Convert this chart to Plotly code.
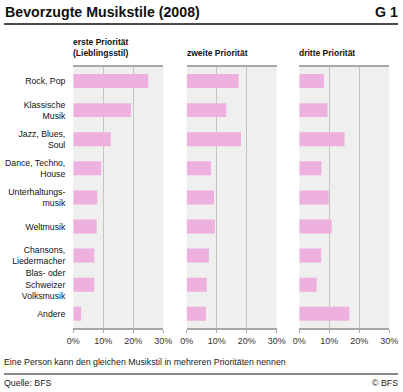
import plotly.graph_objects as go

categories = ["Rock, Pop", "Klassische<br>Musik", "Jazz, Blues,<br>Soul", "Dance, Techno,<br>House",
              "Unterhaltungs-<br>musik", "Weltmusik", "Chansons,<br>Liedermacher",
              "Blas- oder<br>Schweizer<br>Volksmusik", "Andere"]
erste = [25.0, 19.2, 12.5, 9.3, 8.0, 7.8, 7.0, 7.0, 2.6]
zweite = [17.3, 13.2, 18.1, 8.1, 9.1, 9.4, 7.4, 6.7, 6.4]
dritte = [8.2, 9.4, 15.1, 7.4, 9.8, 10.8, 7.3, 5.8, 16.7]
panel_titles = ["erste Priorität<br>(Lieblingsstil)", "zweite Priorität", "dritte Priorität"]
tick_vals = [0, 10, 20, 30]
tick_text = ["0%", "10%", "20%", "30%"]

FONT = "Liberation Sans, Arial, sans-serif"
W, H = 403, 392
BAR = "#EEB0DE"

xdoms = [(73.3 / W, 163.3 / W), (186.7 / W, 276.7 / W), (299.3 / W, 389.3 / W)]
ydom = ((H - 328.3) / H, (H - 66.5) / H)

fig = go.Figure()
series = [erste, zweite, dritte]
for i, vals in enumerate(series):
    sfx = "" if i == 0 else str(i + 1)
    fig.add_trace(go.Bar(
        x=vals, y=categories, orientation="h",
        marker=dict(color=BAR, line=dict(width=0)),
        width=0.48, xaxis="x" + sfx, yaxis="y" + sfx, showlegend=False,
        hoverinfo="x+y",
    ))
    xa = dict(domain=list(xdoms[i]), range=[0, 30], tickvals=tick_vals, ticktext=tick_text,
              showgrid=True, gridcolor="#C4C4C4", gridwidth=1,
              showline=True, mirror=True, linecolor="#A8A8A8", linewidth=1.5,
              ticks="outside", ticklen=3, tickcolor="#A8A8A8",
              tickfont=dict(family=FONT, size=9, color="#333333"),
              zeroline=False, anchor="y" + sfx, fixedrange=True, automargin=False)
    ya = dict(domain=list(ydom), type="category", autorange="reversed",
              showticklabels=(i == 0), ticks="", showgrid=False,
              showline=False, anchor="x" + sfx, ticklabelstandoff=7,
              tickfont=dict(family=FONT, size=8.7, color="#111111"), fixedrange=True,
              automargin=False)
    fig.layout["xaxis" + sfx] = xa
    fig.layout["yaxis" + sfx] = ya
    fig.add_annotation(text="<b>" + panel_titles[i] + "</b>", xref="paper", yref="paper",
                       x=xdoms[i][0] - 2 / W, y=(H - 60) / H, xanchor="left", yanchor="bottom",
                       align="left", showarrow=False,
                       font=dict(family=FONT, size=8.5, color="#111111"))

fig.add_annotation(text="<b>Bevorzugte Musikstile (2008)</b>", xref="paper", yref="paper",
                   x=3 / W, y=(H - 12) / H, xanchor="left", yanchor="middle", showarrow=False,
                   font=dict(family=FONT, size=14.2, color="#111111"))
fig.add_annotation(text="<b>G 1</b>", xref="paper", yref="paper",
                   x=400 / W, y=(H - 12) / H, xanchor="right", yanchor="middle", showarrow=False,
                   font=dict(family=FONT, size=14.2, color="#111111"))
fig.add_annotation(text="Eine Person kann den gleichen Musikstil in mehreren Prioritäten nennen",
                   xref="paper", yref="paper", x=2 / W, y=(H - 362) / H, xanchor="left",
                   yanchor="middle", showarrow=False,
                   font=dict(family=FONT, size=8.8, color="#222222"))
fig.add_annotation(text="Quelle: BFS", xref="paper", yref="paper", x=2 / W, y=(H - 383) / H,
                   xanchor="left", yanchor="middle", showarrow=False,
                   font=dict(family=FONT, size=8.8, color="#222222"))
fig.add_annotation(text="© BFS", xref="paper", yref="paper", x=400 / W, y=(H - 383) / H,
                   xanchor="right", yanchor="middle", showarrow=False,
                   font=dict(family=FONT, size=8.8, color="#222222"))

fig.add_shape(type="line", xref="paper", yref="paper", x0=4 / W, x1=398 / W,
              y0=(H - 24) / H, y1=(H - 24) / H, line=dict(color="#111111", width=1.5))
fig.add_shape(type="line", xref="paper", yref="paper", x0=4 / W, x1=398 / W,
              y0=(H - 374) / H, y1=(H - 374) / H, line=dict(color="#111111", width=1))

fig.update_layout(width=W, height=H, margin=dict(l=0, r=0, t=0, b=0),
                  paper_bgcolor="white", plot_bgcolor="#EFEFEF", bargap=0.5)
fig.write_html("out.html", config={"displayModeBar": False},
               post_script="document.body.style.margin='0';document.body.style.overflow='hidden';")
